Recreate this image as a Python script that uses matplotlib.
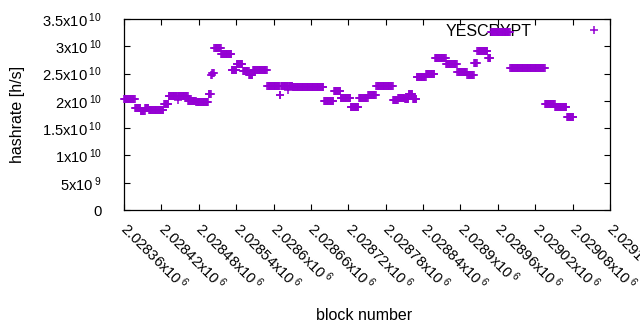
import numpy as np
import matplotlib
matplotlib.use("Agg")
from matplotlib import pyplot as plt

plt.rcParams["font.family"] = ["Liberation Sans", "DejaVu Sans"]
plt.rcParams["mathtext.fontset"] = "custom"
plt.rcParams["mathtext.rm"] = "Liberation Sans"
plt.rcParams["mathtext.it"] = "Liberation Sans"

# hashrate estimate stays constant over runs of blocks: (first block of run, value)
run_start = [2028360, 2028378, 2028387, 2028394, 2028400, 2028424, 2028432, 2028446,
             2028447, 2028463, 2028476, 2028496, 2028500, 2028502, 2028505, 2028516,
             2028533, 2028541, 2028551, 2028561, 2028567, 2028590, 2028610, 2028612,
             2028623, 2028624, 2028631, 2028681, 2028697, 2028708, 2028724, 2028737,
             2028752, 2028765, 2028792, 2028800, 2028811, 2028817, 2028824, 2028830,
             2028845, 2028859, 2028877, 2028895, 2028911, 2028922, 2028927, 2028944,
             2028949, 2028980, 2029036, 2029052, 2029071]
run_value = [20.3e9, 18.6e9, 18.2e9, 18.6e9, 18.3e9, 19.4e9, 20.9e9, 20.2e9,
             20.9e9, 20.0e9, 19.8e9, 21.2e9, 24.7e9, 25.1e9, 29.6e9, 28.5e9,
             25.7e9, 26.8e9, 25.5e9, 24.8e9, 25.6e9, 22.8e9, 21.1e9, 22.8e9,
             21.9e9, 22.8e9, 22.6e9, 20.0e9, 21.8e9, 20.6e9, 18.9e9, 20.6e9,
             21.1e9, 22.7e9, 20.2e9, 20.6e9, 20.3e9, 21.3e9, 20.3e9, 24.3e9,
             24.9e9, 27.8e9, 26.8e9, 25.2e9, 24.7e9, 26.9e9, 29.2e9, 27.8e9,
             32.7e9, 26.1e9, 19.4e9, 18.8e9, 17.1e9]
last_block = 2029081

x_ticks = [2028360, 2028420, 2028480, 2028540, 2028600, 2028660, 2028720,
           2028780, 2028840, 2028900, 2028960, 2029020, 2029080, 2029140]
x_labels = ["2.02836", "2.02842", "2.02848", "2.02854", "2.0286", "2.02866", "2.02872",
            "2.02878", "2.02884", "2.0289", "2.02896", "2.02902", "2.02908", "2.02914"]
y_ticks = [0, 5e9, 1e10, 1.5e10, 2e10, 2.5e10, 3e10, 3.5e10]
y_labels = ["0", r"5x10$\,^{9}$", r"1x10$\,^{10}$", r"1.5x10$\,^{10}$", r"2x10$\,^{10}$",
            r"2.5x10$\,^{10}$", r"3x10$\,^{10}$", r"3.5x10$\,^{10}$"]

ends = run_start[1:] + [last_block + 1]
blocks = np.concatenate([np.arange(s, e) for s, e in zip(run_start, ends)])
rates = np.concatenate([np.full(e - s, v) for s, e, v in zip(run_start, ends, run_value)])

fs = 11.5
tfs = 10.6
fig = plt.figure(figsize=(6.4, 3.3), dpi=100)
ax = fig.add_axes([124 / 640, 1 - 210 / 330, 486 / 640, 191 / 330])

ax.plot(blocks, rates, linestyle="none", marker="+", markersize=5.5, markeredgewidth=1.1,
        color="#9400d3", label="YESCRYPT", zorder=6, clip_on=False)

ax.set_xlim(2028360, 2029140)
ax.set_ylim(0, 3.5e10)
ax.set_xticks(x_ticks)
ax.set_xticklabels([l + r"x10$\,^{6}$" for l in x_labels], rotation=-45,
                   ha="left", va="center", rotation_mode="anchor", fontsize=tfs)
ax.set_yticks(y_ticks)
ax.set_yticklabels(y_labels, fontsize=tfs)
ax.tick_params(direction="in", length=4, width=0.8, top=True, right=True)
ax.tick_params(axis="x", pad=11)
ax.tick_params(axis="y", pad=16)
for sp in ax.spines.values():
    sp.set_linewidth(0.9)

ax.set_xlabel("block number", fontsize=fs)
ax.xaxis.set_label_coords(0.494, -0.515)
ax.set_ylabel("hashrate [h/s]", fontsize=fs)
ax.yaxis.set_label_coords(-0.204, 0.5)

leg = ax.legend(loc="upper right", bbox_to_anchor=(1.0, 0.975), frameon=False,
                markerfirst=False, handlelength=2.0, handletextpad=2.9,
                borderaxespad=0, borderpad=0, fontsize=fs)
leg.set_zorder(1)

fig.savefig("out.png")
